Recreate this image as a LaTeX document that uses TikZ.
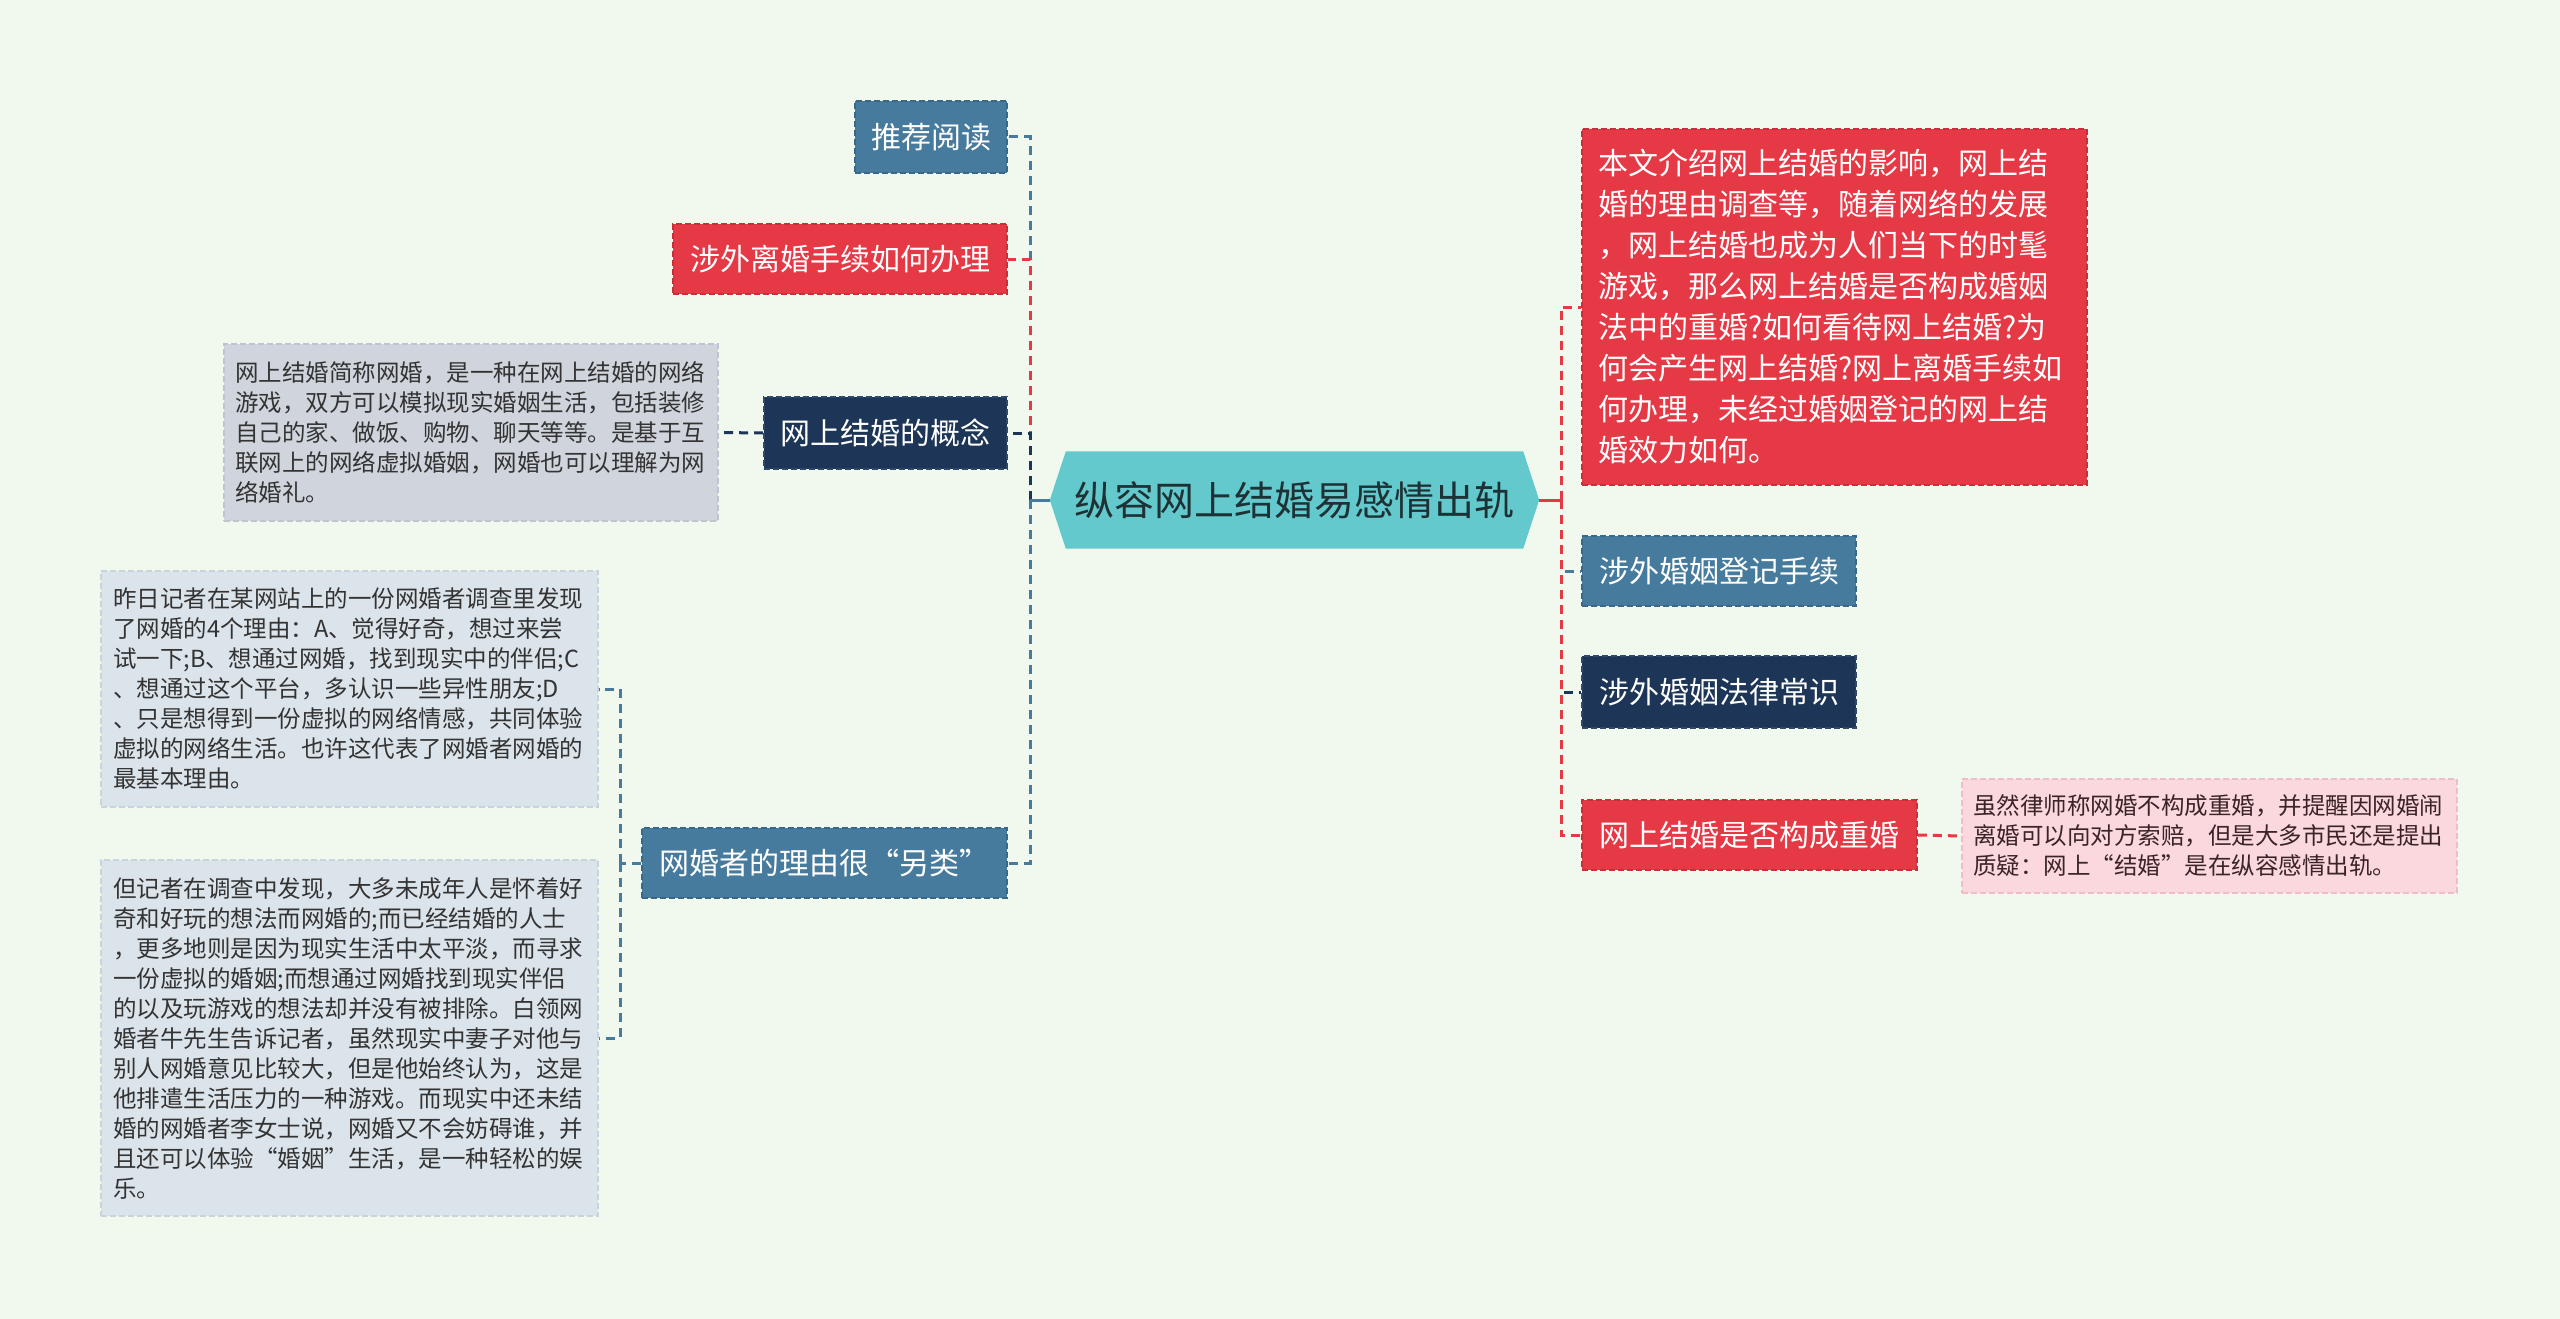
\documentclass[tikz,border=0pt]{standalone}
\usepackage{fontspec}
\setmainfont{Noto Sans CJK SC}
\usetikzlibrary{backgrounds}
\definecolor{bgc}{HTML}{F1F9EF}
\definecolor{steelc}{HTML}{477B9D}
\definecolor{steelb}{HTML}{3A6888}
\definecolor{crimc}{HTML}{E63946}
\definecolor{crimb}{HTML}{C92F3B}
\definecolor{navyc}{HTML}{1D3557}
\definecolor{navyb}{HTML}{30486A}
\definecolor{rootc}{HTML}{63C9CD}
\definecolor{roottxt}{HTML}{1E3236}
\definecolor{grayc}{HTML}{D0D5DD}
\definecolor{grayb}{HTML}{BFC5CF}
\definecolor{bluegc}{HTML}{DCE4EB}
\definecolor{bluegb}{HTML}{C8D3DD}
\definecolor{pinkc}{HTML}{FAD8DD}
\definecolor{pinkb}{HTML}{F1BDC5}
\definecolor{txtc}{HTML}{333333}
\definecolor{pinktxt}{HTML}{3B2427}
\tikzset{
  conn/.style={line width=3pt, dash pattern=on 9pt off 6pt},
  trunk/.style={line width=3pt},
  mainbox/.style={inner sep=0pt, font=\fontsize{30}{36}\selectfont, text=white,
    minimum height=70pt, line width=1.6pt, dash pattern=on 6pt off 3pt},
  descbox/.style={inner sep=0pt, align=left, font=\fontsize{23.5}{30}\selectfont,
    text=txtc, line width=1.6pt, dash pattern=on 6pt off 3pt},
}
\begin{document}
\begin{tikzpicture}[x=1pt,y=1pt]
\begin{scope}[on background layer]
  \fill[bgc] (0,0) rectangle (2560,-1319);
\end{scope}
\useasboundingbox (0,0) rectangle (2560,-1319);

% root
\node[inner sep=0pt, minimum width=489pt, minimum height=97pt, text=roottxt,
  font=\fontsize{40}{46}\selectfont] (root) at (1294.5,-500) {纵容网上结婚易感情出轨};
\begin{scope}[on background layer]
  \fill[rootc] (root.west) -- ([xshift=16pt]root.north west) -- ([xshift=-16pt]root.north east)
    -- (root.east) -- ([xshift=-16pt]root.south east) -- ([xshift=16pt]root.south west) -- cycle;
\end{scope}

% left children
\node[mainbox, fill=steelc, draw=steelb, minimum width=152pt, minimum height=72pt] (tj) at (931,-137) {推荐阅读};
\node[mainbox, fill=crimc, draw=crimb, minimum width=334pt] (lh) at (840,-259) {涉外离婚手续如何办理};
\node[mainbox, fill=navyc, draw=navyb, minimum width=243pt, minimum height=72pt] (gn) at (885.5,-433) {网上结婚的概念};
\node[mainbox, fill=steelc, draw=steelb, minimum width=365pt] (ly) at (824.5,-863) {网婚者的理由很“另类”};

\node[descbox, fill=grayc, draw=grayb, minimum width=494pt, minimum height=177pt, text width=472pt] (gd) at (471,-432.5)
{网上结婚简称网婚，是一种在网上结婚的网络\\游戏，双方可以模拟现实婚姻生活，包括装修\\自己的家、做饭、购物、聊天等等。是基于互\\联网上的网络虚拟婚姻，网婚也可以理解为网\\络婚礼。};

\node[descbox, fill=bluegc, draw=bluegb, minimum width=497pt, minimum height=236pt, text width=473pt] (d1) at (349.5,-689)
{昨日记者在某网站上的一份网婚者调查里发现\\了网婚的4个理由：A、觉得好奇，想过来尝\\试一下;B、想通过网婚，找到现实中的伴侣;C\\、想通过这个平台，多认识一些异性朋友;D\\、只是想得到一份虚拟的网络情感，共同体验\\虚拟的网络生活。也许这代表了网婚者网婚的\\最基本理由。};

\node[descbox, fill=bluegc, draw=bluegb, minimum width=497pt, minimum height=356pt, text width=473pt] (d2) at (349.5,-1038)
{但记者在调查中发现，大多未成年人是怀着好\\奇和好玩的想法而网婚的;而已经结婚的人士\\，更多地则是因为现实生活中太平淡，而寻求\\一份虚拟的婚姻;而想通过网婚找到现实伴侣\\的以及玩游戏的想法却并没有被排除。白领网\\婚者牛先生告诉记者，虽然现实中妻子对他与\\别人网婚意见比较大，但是他始终认为，这是\\他排遣生活压力的一种游戏。而现实中还未结\\婚的网婚者李女士说，网婚又不会妨碍谁，并\\且还可以体验“婚姻”生活，是一种轻松的娱\\乐。};

% right children
\node[descbox, fill=crimc, draw=crimb, text=white, font=\fontsize{30}{41}\selectfont,
  minimum width=505pt, minimum height=356pt, text width=473pt] (intro) at (1834.5,-307)
{本文介绍网上结婚的影响，网上结\\婚的理由调查等，随着网络的发展\\，网上结婚也成为人们当下的时髦\\游戏，那么网上结婚是否构成婚姻\\法中的重婚?如何看待网上结婚?为\\何会产生网上结婚?网上离婚手续如\\何办理，未经过婚姻登记的网上结\\婚效力如何。};
\node[mainbox, fill=steelc, draw=steelb, minimum width=274pt] (dj) at (1719,-571) {涉外婚姻登记手续};
\node[mainbox, fill=navyc, draw=navyb, minimum width=274pt, minimum height=72pt] (fl) at (1719,-692) {涉外婚姻法律常识};
\node[mainbox, fill=crimc, draw=crimb, minimum width=335pt] (ch) at (1749.5,-835) {网上结婚是否构成重婚};
\node[descbox, fill=pinkc, draw=pinkb, text=pinktxt, minimum width=495pt, minimum height=114pt, text width=473pt] (pk) at (2209.5,-836)
{虽然律师称网婚不构成重婚，并提醒因网婚闹\\离婚可以向对方索赔，但是大多市民还是提出\\质疑：网上“结婚”是在纵容感情出轨。};

% junctions
\coordinate (JL) at (1030,-500);
\coordinate (JR) at (1561,-500);
\coordinate (JW) at (620,-863);

% left connectors
\draw[conn, steelc] (JL) |- (tj.east);
\draw[conn, crimc] (JL) |- (lh.east);
\draw[conn, navyc] (JL) |- (gn.east);
\draw[conn, steelc] (JL) |- (ly.east);
\draw[trunk, steelc] (root.west) -- (JL);
\draw[conn, navyc] (gn.west) -- (gd.east);
\draw[conn, steelc] (ly.west) -- (JW);
\draw[conn, steelc] (JW) |- (d1.east);
\draw[conn, steelc] (JW) |- (d2.east);

% right connectors
\draw[conn, steelc] (JR) |- (dj.west);
\draw[conn, navyc] (JR) |- (fl.west);
\draw[conn, crimc] (JR) |- (ch.west);
\draw[conn, crimc] (JR) |- (intro.west);
\draw[trunk, crimc] (root.east) -- (JR);
\draw[conn, crimc] (ch.east) -- (pk.west);
\end{tikzpicture}
\end{document}
